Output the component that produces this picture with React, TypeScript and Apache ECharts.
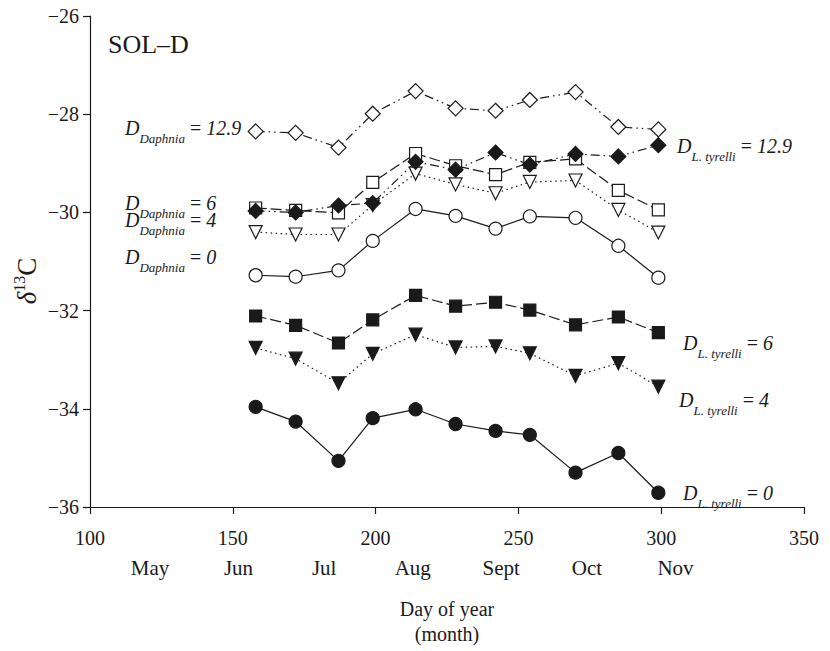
import React, { useEffect, useRef } from 'react';
import * as echarts from 'echarts';

// Sampling days (day of year)
const days = [158, 172, 187, 199, 214, 228, 242, 254, 270, 285, 299];

// δ13C series
const daphnia129 = [-28.35, -28.38, -28.68, -27.99, -27.53, -27.88, -27.93, -27.71, -27.55, -28.26, -28.31];
const tyrelli129 = [-29.97, -30.0, -29.86, -29.81, -28.97, -29.13, -28.78, -29.03, -28.81, -28.86, -28.63];
const daphnia6 = [-29.91, -29.96, -30.01, -29.39, -28.8, -29.05, -29.23, -28.98, -28.91, -29.55, -29.95];
const daphnia4 = [-30.4, -30.45, -30.45, -29.85, -29.21, -29.43, -29.61, -29.38, -29.35, -29.95, -30.41];
const daphnia0 = [-31.28, -31.31, -31.18, -30.58, -29.93, -30.07, -30.33, -30.08, -30.11, -30.68, -31.33];
const tyrelli6 = [-32.11, -32.3, -32.66, -32.19, -31.69, -31.91, -31.83, -31.99, -32.29, -32.13, -32.45];
const tyrelli4 = [-32.76, -32.98, -33.48, -32.88, -32.49, -32.75, -32.73, -32.87, -33.33, -33.07, -33.55];
const tyrelli0 = [-33.96, -34.26, -35.06, -34.19, -34.01, -34.31, -34.45, -34.53, -35.3, -34.9, -35.71];

// Month labels placed at the first day of each month
const monthNames = ['May', 'Jun', 'Jul', 'Aug', 'Sept', 'Oct', 'Nov'];
const monthDays = [121, 152, 182, 213, 244, 274, 305];

// Axis ranges
const xMin = 100, xMax = 350, xStep = 50;
const yMin = -36, yMax = -26, yStep = 2;

// Annotation labels
const daphniaLabels = [
  { value: '12.9', y: 128 },
  { value: '6', y: 203 },
  { value: '4', y: 220 },
  { value: '0', y: 257 },
];
const tyrelliLabels = [
  { value: '12.9', x: 677, y: 146 },
  { value: '6', x: 683, y: 343 },
  { value: '4', x: 679, y: 400 },
  { value: '0', x: 683, y: 493 },
];

const SERIF = '"Liberation Serif", "Times New Roman", Times, serif';
const INK = '#1a1a1a';

const pair = (vals: number[]) => days.map((d, i) => [d, vals[i]]);

function mkSeries(
  name: string,
  vals: number[],
  symbol: string,
  size: number,
  filled: boolean,
  dash: any,
  rotate = 0,
) {
  return {
    name,
    type: 'line',
    data: pair(vals),
    symbol,
    symbolSize: size,
    symbolRotate: rotate,
    showAllSymbol: true,
    itemStyle: {
      color: filled ? INK : '#ffffff',
      borderColor: INK,
      borderWidth: 1.2,
    },
    lineStyle: { color: INK, width: 1.2, type: dash },
    emphasis: { disabled: true },
    silent: true,
  };
}

const labelRich = {
  d: { fontFamily: SERIF, fontStyle: 'italic', fontSize: 20, fill: INK, verticalAlign: 'middle' },
  s: { fontFamily: SERIF, fontStyle: 'italic', fontSize: 13, fill: INK, verticalAlign: 'middle', padding: [20, 0, 0, 0] },
  e: { fontFamily: SERIF, fontSize: 20, fill: INK, verticalAlign: 'middle' },
  n: { fontFamily: SERIF, fontStyle: 'italic', fontSize: 20, fill: INK, verticalAlign: 'middle' },
};

export default function App() {
  const ref = useRef<HTMLDivElement>(null);
  useEffect(() => {
    if (!ref.current) return;
    const chart = echarts.init(ref.current, undefined, { renderer: 'svg' });

    const dashDotDot = [9, 4, 1.5, 4, 1.5, 4];
    const dashed = [11, 4];
    const dotted = [1.5, 3.5];

    const graphics: any[] = [
      {
        type: 'text',
        x: 108,
        y: 44,
        style: { text: 'SOL–D', font: `26px ${SERIF}`, fill: INK, align: 'left', verticalAlign: 'middle' },
      },
      {
        type: 'text',
        x: 27,
        y: 281,
        rotation: Math.PI / 2,
        style: {
          text: '{g|δ}{p|13}{c|C}',
          align: 'center',
          verticalAlign: 'middle',
          rich: {
            g: { fontFamily: SERIF, fontStyle: 'italic', fontSize: 27, fill: INK, verticalAlign: 'middle' },
            p: { fontFamily: SERIF, fontSize: 16, fill: INK, verticalAlign: 'middle', padding: [0, 0, 16, 0] },
            c: { fontFamily: SERIF, fontSize: 27, fill: INK, verticalAlign: 'middle' },
          },
        },
      },
    ];
    daphniaLabels.forEach((l) => {
      graphics.push({
        type: 'text',
        x: 125,
        y: l.y,
        style: {
          text: `{d|D}{s|Daphnia}{e| = }{n|${l.value}}`,
          align: 'left',
          verticalAlign: 'middle',
          rich: labelRich,
        },
      });
    });
    tyrelliLabels.forEach((l) => {
      graphics.push({
        type: 'text',
        x: l.x,
        y: l.y,
        style: {
          text: `{d|D}{s|L. tyrelli}{e| = }{n|${l.value}}`,
          align: 'left',
          verticalAlign: 'middle',
          rich: labelRich,
        },
      });
    });

    chart.setOption({
      animation: false,
      backgroundColor: '#ffffff',
      grid: { left: 90, right: 26, top: 16, bottom: 135, containLabel: false },
      xAxis: [
        {
          type: 'value',
          min: xMin,
          max: xMax,
          interval: xStep,
          position: 'bottom',
          axisLine: { show: true, onZero: false, lineStyle: { color: INK, width: 1.2 } },
          axisTick: { show: true, length: 7, lineStyle: { color: INK, width: 1.2 } },
          splitLine: { show: false },
          axisLabel: { color: INK, fontFamily: SERIF, fontSize: 20, margin: 21 },
          name: 'Day of year\n(month)',
          nameLocation: 'middle',
          nameGap: 89,
          nameTextStyle: { color: INK, fontFamily: SERIF, fontSize: 20, lineHeight: 25 },
        },
        {
          type: 'value',
          min: xMin,
          max: xMax,
          position: 'bottom',
          axisLine: { show: false },
          axisTick: { show: false },
          splitLine: { show: false },
          axisLabel: {
            color: INK,
            fontFamily: SERIF,
            fontSize: 21,
            margin: 50,
            customValues: monthDays,
            showMinLabel: true,
            showMaxLabel: true,
            formatter: (v: number) => {
              const i = monthDays.indexOf(v);
              return i >= 0 ? monthNames[i] : '';
            },
          },
        },
      ],
      yAxis: {
        type: 'value',
        min: yMin,
        max: yMax,
        interval: yStep,
        axisLine: { show: true, onZero: false, lineStyle: { color: INK, width: 1.2 } },
        axisTick: { show: true, length: 7, lineStyle: { color: INK, width: 1.2 } },
        splitLine: { show: false },
        axisLabel: {
          color: INK,
          fontFamily: SERIF,
          fontSize: 20,
          margin: 11,
          formatter: (v: number) => (v < 0 ? '\u2212' + Math.abs(v) : String(v)),
        },
      },
      graphic: graphics,
      series: [
        mkSeries('D_Daphnia = 0', daphnia0, 'circle', 13, false, 'solid'),
        mkSeries('D_L.tyrelli = 0', tyrelli0, 'circle', 13, true, 'solid'),
        mkSeries('D_L.tyrelli = 6', tyrelli6, 'rect', 12, true, dashed),
        mkSeries('D_L.tyrelli = 4', tyrelli4, 'triangle', 13, true, dotted, 180),
        mkSeries('D_Daphnia = 4', daphnia4, 'triangle', 13, false, dotted, 180),
        mkSeries('D_Daphnia = 6', daphnia6, 'rect', 12, false, dashed),
        mkSeries('D_L.tyrelli = 12.9', tyrelli129, 'diamond', 15, true, dashDotDot),
        mkSeries('D_Daphnia = 12.9', daphnia129, 'diamond', 15, false, dashDotDot),
      ],
    });
    return () => chart.dispose();
  }, []);
  return (
    <div
      ref={ref}
      style={{ position: 'fixed', left: 0, top: 0, width: 830, height: 651, background: '#fff' }}
    />
  );
}
